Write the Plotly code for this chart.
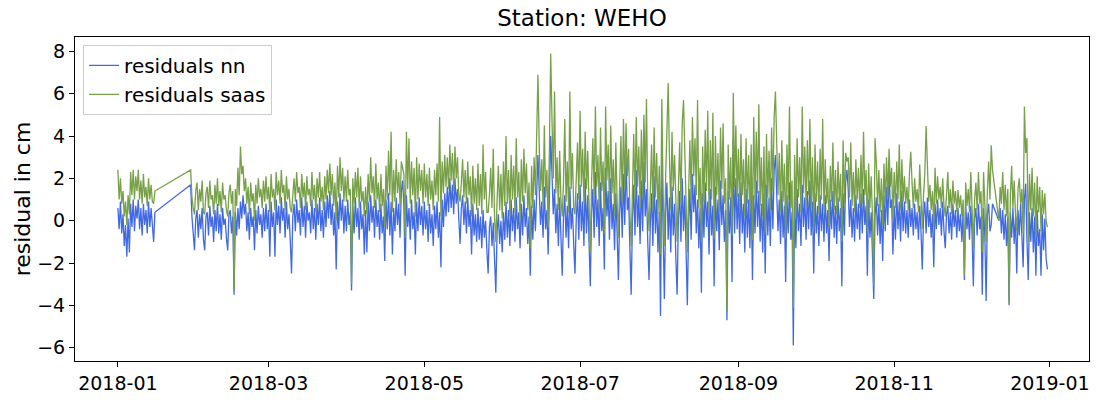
import pandas as pd
import plotly.graph_objects as go

# Residual series sampled every 12 hours, split into the three contiguous data blocks.
SEG_STARTS = ["2018-01-01 00:00", "2018-01-29 12:00", "2018-12-12 00:00"]

nn_jan = [0.6, -0.4, 0.9, -0.6, 0.3, -1.2, -0.2, -1.7, 0.1, -1.5, 0.8, -0.3, 1.0, -0.5, 0.7,
          0.1, 1.0, -0.4, 0.6, -0.7, 0.8, -0.2, 0.5, -0.6, 0.9, -0.3, 0.6, -0.4, -1.0, 0.4]
saas_jan = [2.4, 1.0, 2.0, 0.8, 1.4, 0.2, 0.9, -0.2, 1.2, 0.3, 2.3, 1.2, 2.4, 1.0, 2.1,
            1.4, 2.4, 1.0, 1.9, 0.8, 2.2, 1.1, 1.6, 0.7, 2.0, 1.0, 1.7, 0.9, 0.8, 1.4]

nn_main = [
    1.7,
    0.2, -0.6, -1.4, 0.1, 0.5, -0.8, 0.3, -0.4, 0.6, -0.9,
    -1.4, 0.2, 0.4, -0.7, 0.7, -0.3, 0.2, -1.0, 0.5, -0.5,
    0.8, -0.6, 0.3, -0.9, 0.6, -0.2, 0.1, -0.8, -1.4, 0.3,
    0.5, -0.6, 0.2, -3.5, 0.4, -0.7, 0.6, -0.4, 0.9, 0.1,
    1.2, 0.3, 0.8, -0.5, 0.4, -0.9, 0.6, -0.3, 0.2, -1.4,
    0.5, -0.6, 0.7, -0.2, 0.3, -0.8, 0.6, -0.5, 0.8, -0.4,
    0.5, -1.7, 0.9, -0.3, 0.4, -1.7, 1.0, -0.2, 0.7, -0.6,
    1.1, 0.0, 0.6, -0.8, 0.9, -0.4, 0.3, -0.9, -2.5, 0.2,
    0.8, -0.5, 1.0, -0.1, 0.5, -0.7, 1.1, -0.3, 0.7, -0.8,
    0.9, 0.0, 0.4, -0.6, 1.0, -0.4, 0.6, -0.9, 0.8, -0.2,
    1.1, -0.5, 0.5, -0.8, 0.9, -0.3, 1.2, 0.1, 1.4, -0.2,
    0.8, -0.7, 0.4, -2.3, 0.9, -0.4, 1.3, 0.0, 1.0, -0.6,
    0.7, -0.5, 1.0, -0.2, 0.4, -3.3, 0.8, -0.6, 1.1, -0.3,
    0.6, -0.9, 0.9, -0.4, 0.3, -1.6, 0.5, -1.5, 0.9, -0.5,
    1.2, -0.1, 0.7, -0.8, 1.0, -0.3, 0.5, -0.9, 0.8, -0.6,
    0.2, -1.9, 1.0, -0.4, 1.3, -0.7, 0.9, -1.6, 0.6, -0.5,
    1.1, -0.2, 0.8, -0.8, 1.4, 1.9, 0.7, -2.6, 1.2, -0.3,
    0.6, -0.9, 1.0, -0.4, 0.4, -1.6, 0.9, -0.5, 1.1, -0.2,
    0.7, -0.7, 0.9, -0.4, 0.5, -1.0, 0.8, -0.6, 0.3, -1.2,
    0.7, -0.4, 0.9, -0.8, 0.4, -2.2, 1.0, -0.3, 1.3, 0.2,
    1.6, 0.4, 2.0, 0.6, 1.7, 0.3, 2.0, 0.8, 1.5, 0.1,
    -1.1, 0.6, 1.2, -0.2, 0.9, -0.6, 1.1, -0.3, 0.5, -1.6,
    0.8, -0.7, 0.3, -1.0, 0.6, -0.9, 0.2, -1.3, 0.5, -0.8,
    0.0, -1.4, -2.5, -0.3, 0.2, -1.2, -0.1, -1.8, -3.4, -0.5,
    0.3, -1.1, 0.0, -1.5, 0.4, -0.9, 0.9, -0.8, 0.5, -1.2,
    1.0, -0.5, 0.6, -1.0, 1.1, -0.4, 0.4, -1.3, 0.8, -0.7,
    1.2, -0.3, 0.6, -1.1, 0.2, -2.6, 0.7, -0.9, 1.0, -0.5,
    1.8, 3.1, 1.4, -0.2, 0.9, -0.8, 1.6, -0.4, 0.5, -1.6,
    1.3, 4.0, 2.2, 0.3, 1.5, -0.6, 0.8, -1.2, 1.1, -0.7,
    -2.6, 0.2, 1.2, -0.8, 0.7, -1.3, 1.6, -0.4, 0.6, -1.1,
    -2.5, 0.1, 1.3, -0.9, 1.7, -0.5, 0.9, -1.2, 2.0, -0.6,
    1.2, -1.0, -3.1, 0.4, 1.5, -0.8, 2.3, -0.3, 1.0, -1.2,
    1.8, -0.5, 0.6, -2.3, 2.5, 0.2, 1.4, -0.9, 2.0, -0.4,
    0.8, -1.4, 1.3, -0.6, -2.8, 0.3, 1.6, -0.8, 2.2, -0.2,
    3.0, 0.5, 1.1, -1.3, -3.5, 0.0, 1.7, -0.7, 2.4, -0.3,
    1.2, -1.1, 1.9, -0.5, 2.8, 0.2, 1.5, -1.0, -2.8, -0.2,
    1.3, -1.2, 2.1, -0.6, 1.0, -1.5, 0.4, -4.5, 2.9, -0.4,
    -3.7, 0.3, 1.8, -0.9, 1.1, -1.5, 1.6, -0.7, 0.8, -1.8,
    -3.5, 0.1, 1.4, -1.0, 2.0, -0.5, 1.2, -1.4, -4.0, -0.2,
    1.5, -0.9, 2.2, 0.4, 1.7, -0.6, 1.0, -1.3, 0.6, -3.4,
    1.3, -0.8, 1.8, -0.3, 0.9, -1.6, 1.5, -0.7, 0.7, -3.1,
    1.6, -0.5, 1.0, -1.4, 1.9, -0.2, 1.2, -1.0, 0.5, -4.7,
    1.4, -0.6, 1.1, -2.9, 3.9, -0.6, 2.0, -0.4, 1.3, -1.1,
    1.8, -0.6, 0.8, -1.5, 1.5, -0.8, 1.0, -1.3, 1.6, -2.8,
    1.2, -0.6, 1.9, -0.3, 1.4, -1.0, 0.8, -1.5, 1.3, -2.5,
    1.7, -0.7, 1.1, -1.2, 2.0, -0.4, 2.4, 3.1, 1.6, -0.5,
    1.0, -1.1, 1.4, -0.8, 0.7, -2.9, 1.2, -0.6, 1.8, -0.9,
    0.4, -5.9, 1.0, -1.3, 1.5, -0.5, 0.8, -1.2, 1.7, -0.3,
    1.1, -0.9, 1.4, -0.4, 1.9, -0.7, 0.9, -2.5, 1.3, -0.6,
    0.7, -1.2, 1.2, -0.5, 0.8, -1.0, 1.2, -0.6, 0.5, -1.9,
    1.0, -0.4, 1.4, -0.8, 0.7, -1.1, 1.1, -0.5, 0.6, -3.1,
    1.3, -0.7, 1.8, 2.4, 1.5, -0.3, 1.0, -0.8, 0.6, -1.0,
    1.2, -0.4, 0.8, -0.9, 1.3, -0.6, 1.5, -0.2, 0.7, -2.6,
    1.0, -0.8, 0.4, -1.2, -3.7, 0.2, 1.1, -0.7, 0.8, -1.1,
    0.5, -1.9, 1.2, -0.5, 1.6, -0.2, 2.5, 0.6, 1.0, -1.6,
    0.7, -0.9, 1.3, -0.4, 0.9, -1.0, 1.4, -0.5, 0.9, -0.6,
    0.5, -0.8, 1.0, -0.3, 0.6, -0.7, 0.8, -0.4, 0.4, -0.9,
    0.7, -0.5, -2.3, 0.2, 0.9, -0.6, 1.1, -0.3, 0.5, -0.8,
    0.3, -2.2, 0.8, -0.4, 1.0, -0.2, 0.6, -0.7, 0.9, -0.5,
    -1.3, 0.3, 0.7, -0.6, 0.4, -0.9, 0.8, -0.3, 0.5, -0.8,
    0.6, -0.5, 0.3, -1.0, 0.5, -2.8, 0.8, -0.4, 0.4, -0.9,
    0.7, -0.6, -3.1, 0.1, 0.6, -0.7, 0.8, -0.4, 0.2, -3.5,
    0.6, -0.7, -3.8, 0.3, 0.8, -0.5, -0.2, 0.8,
]

saas_main = [
    2.4,
    1.1, 0.6, 0.3, 1.4, 1.8, 0.5, 1.5, 0.9, 1.9, 0.4,
    0.3, 1.3, 1.6, 0.6, 1.9, 1.0, 1.2, 0.3, 1.7, 0.8,
    2.0, 0.7, 1.4, 0.4, 1.8, 1.0, 1.2, 0.5, 0.2, 1.3,
    1.7, 0.8, 1.4, -3.3, 1.5, 0.7, 2.5, 1.2, 3.5, 2.2,
    2.6, 1.4, 2.0, 0.8, 1.6, 0.3, 1.8, 0.9, 1.3, 0.0,
    1.7, 0.8, 2.0, 1.1, 1.5, 0.6, 1.9, 0.9, 2.1, 1.0,
    1.6, 0.4, 2.2, 1.1, 1.5, 0.5, 2.3, 1.2, 1.9, 0.8,
    2.4, 1.3, 1.7, 0.5, 2.1, 1.0, 1.5, 0.6, 0.4, 1.2,
    2.0, 0.9, 2.3, 1.3, 1.6, 0.6, 2.2, 1.1, 1.8, 0.5,
    2.1, 1.2, 1.5, 0.7, 2.3, 1.0, 1.7, 0.4, 2.0, 1.1,
    2.3, 0.9, 1.6, 0.5, 2.1, 1.0, 2.4, 1.3, 2.7, 1.2,
    2.2, 0.7, 1.8, 0.0, 2.6, 1.1, 3.0, 1.4, 2.5, 0.9,
    2.1, 0.9, 2.4, 1.2, 1.5, -3.0, 2.0, 0.8, 2.3, 1.1,
    2.5, 0.6, 2.1, 0.9, 1.4, 0.2, 1.6, 0.3, 2.2, 0.9,
    3.0, 1.3, 2.1, 0.6, 2.7, 1.0, 1.8, 0.4, 2.2, 0.7,
    1.5, -0.3, 2.6, 1.0, 3.3, 1.2, 4.2, 0.4, 2.4, 0.9,
    2.9, 1.3, 2.3, 0.7, 2.8, 2.5, 2.2, -0.8, 4.2, 1.5,
    3.9, 0.8, 2.8, 1.2, 2.5, 0.2, 3.0, 1.0, 2.7, 1.4,
    2.4, 0.8, 2.7, 1.1, 2.2, 0.7, 2.5, 1.0, 1.9, 0.5,
    2.4, 1.2, 2.7, 0.9, 4.9, 0.2, 2.8, 1.3, 3.1, 1.6,
    3.0, 1.5, 3.6, 1.9, 3.2, 1.4, 3.5, 2.0, 3.0, 1.2,
    0.9, 1.8, 2.9, 1.1, 2.4, 0.8, 2.8, 1.2, 2.1, 0.2,
    2.6, 0.8, 2.0, 0.5, 2.7, 0.7, 2.2, 0.3, 3.6, 1.0,
    2.3, 0.4, 0.4, 1.2, 2.5, 0.6, 3.4, 0.2, -1.0, 1.0,
    2.6, 0.5, 2.2, 0.1, 2.8, 0.7, 4.0, 0.8, 2.4, 0.2,
    3.1, 1.0, 2.6, 0.4, 3.9, 1.1, 2.3, 0.0, 2.9, 0.9,
    3.4, 1.3, 2.7, 0.5, 1.8, -1.3, 2.6, 0.6, 3.0, 1.2,
    3.8, 6.9, 3.5, 1.4, 2.9, 0.7, 4.5, 1.1, 2.4, -0.3,
    3.6, 7.9, 4.8, 2.0, 6.1, 1.3, 3.0, 0.5, 3.3, 1.0,
    0.2, 1.8, 4.8, 0.9, 2.8, 0.4, 6.1, 1.5, 3.2, 0.6,
    0.3, 2.0, 3.7, 1.0, 5.2, 1.6, 3.4, 0.8, 4.2, 1.5,
    3.3, 0.8, -1.5, 1.8, 3.9, 1.2, 5.4, 1.6, 3.1, 0.5,
    4.4, 1.4, 2.8, -0.6, 5.4, 1.9, 3.6, 0.8, 4.5, 1.3,
    2.9, 0.2, 3.7, 1.0, -0.8, 1.7, 4.0, 0.9, 4.8, 1.5,
    4.6, 2.1, 3.4, 0.4, -1.2, 1.3, 4.1, 1.0, 4.9, 1.6,
    3.5, 0.6, 4.3, 1.2, 5.0, 1.8, 5.75, 0.9, -0.5, 1.4,
    3.6, 0.5, 4.4, 1.1, 3.2, 0.3, 2.6, -1.6, 5.75, 1.5,
    -1.2, 2.0, 3.9, 6.5, 3.0, 0.5, 4.2, 1.4, 3.1, 0.2,
    -1.0, 1.6, 3.7, 0.8, 4.6, 5.7, 3.4, 0.4, -1.5, 1.3,
    3.8, 1.0, 4.9, 2.1, 3.9, 1.2, 5.7, 0.6, 2.5, -1.0,
    3.5, 0.9, 4.3, 1.4, 5.2, 0.3, 3.8, 1.0, 5.1, -0.8,
    4.0, 1.2, 3.2, 0.4, 4.4, 1.5, 4.6, 0.8, 2.0, -4.3,
    3.6, 1.0, 3.0, -0.7, 6.05, 1.6, 4.5, 1.1, 3.4, 0.5,
    4.1, 1.2, 2.9, 0.2, 3.9, 0.8, 3.1, 0.3, 3.6, -0.9,
    4.9, 1.0, 4.2, 1.3, 5.5, 0.7, 3.0, 0.2, 3.5, -0.6,
    4.1, 1.1, 3.3, 0.5, 4.4, 1.4, 4.9, 6.1, 4.0, 1.2,
    3.2, 0.4, 3.8, 0.9, 2.7, -0.8, 3.6, 1.0, 5.4, 0.6,
    1.9, -4.1, 3.1, 0.3, 3.9, 1.1, 3.0, 0.4, 5.4, 1.3,
    3.5, 0.7, 3.8, 1.2, 4.8, 0.6, 3.0, -0.4, 3.6, 0.9,
    2.8, 0.3, 3.4, 1.0, 4.8, 0.5, 2.9, 0.8, 2.0, -0.3,
    2.6, 0.9, 3.7, 0.5, 2.4, 0.3, 2.8, 0.9, 2.2, -1.0,
    3.8, 0.8, 3.2, 2.8, 3.0, 1.1, 3.7, 0.7, 2.3, 0.4,
    2.9, 1.0, 2.5, 0.6, 3.1, 0.8, 4.2, 1.2, 2.4, -0.5,
    2.7, 0.6, 2.1, 0.2, -3.1, 3.9, 2.8, 0.7, 2.4, 0.4,
    2.0, -0.2, 2.7, 0.8, 3.0, 1.1, 3.4, 1.6, 2.5, 0.1,
    2.3, 0.6, 2.8, 1.0, 3.6, 0.5, 2.9, 0.9, 2.1, 0.8,
    1.6, 0.5, 2.3, 3.26, 1.8, 0.6, 2.0, 0.9, 1.5, 0.4,
    2.65, 0.7, -0.4, 1.2, 2.2, 4.47, 2.4, 0.9, 1.7, 0.5,
    1.4, -0.3, 2.5, 0.8, 2.1, 1.0, 1.6, 0.6, 2.0, 0.7,
    0.2, 1.1, 2.3, 0.6, 1.5, 0.3, 1.9, 0.8, 1.4, 0.4,
    1.45, 0.6, 1.2, 0.2, 1.0, -2.6, 1.8, 0.7, 1.5, 0.4,
    2.3, 0.6, -1.3, 1.0, 1.8, 0.5, 2.3, 0.8, 1.4, -1.5,
    2.3, 0.8, -1.0, 1.4, 2.8, 1.0, 3.56, 2.4,
]

nn_dec = [0.0, 0.6, -0.6, 0.5, -0.9, 0.3, -1.2, 0.2, -4.0, 0.4,
          -0.8, 0.6, -1.1, 0.2, -2.5, 0.5, -0.7, 0.8, -1.3, -2.2,
          1.0, 1.75, -0.9, -2.8, 0.4, -1.0, 0.6, -1.5, 0.2, -2.6,
          0.5, -1.2, -0.4, -2.6, 0.3, -1.4, 0.1, -1.8, -2.3]
saas_dec = [0.0, 1.6, 0.8, 2.3, 0.5, 1.7, 0.2, 1.5, -3.9, 1.2,
            2.6, 0.6, 1.9, 0.3, -0.5, 1.5, 2.0, 0.8, 1.5, -0.6,
            5.4, 3.2, 3.9, -1.0, 2.2, 0.5, 2.5, 0.2, 1.8, -0.7,
            2.1, 0.4, 1.6, -0.5, 1.45, 0.3, 1.3, 0.0, -0.3]


def build_series(segments):
    """Join the data blocks into one time-indexed series (gaps get bridged by the line)."""
    parts = []
    for start, vals in zip(SEG_STARTS, segments):
        idx = pd.date_range(start, periods=len(vals), freq="12h")
        parts.append(pd.Series(vals, index=idx))
    return pd.concat(parts)


nn = build_series([nn_jan, nn_main, nn_dec])
saas = build_series([saas_jan, saas_main, saas_dec])

FONT = "DejaVu Sans"
TICK_SIZE = 19

fig = go.Figure()
fig.add_trace(go.Scatter(x=nn.index, y=nn.values, mode="lines", name="residuals nn",
                         line=dict(color="#4169e1", width=1.3)))
fig.add_trace(go.Scatter(x=saas.index, y=saas.values, mode="lines", name="residuals saas",
                         line=dict(color="#77a048", width=1.3)))

fig.update_layout(
    width=1098, height=402,
    margin=dict(l=75, r=8, t=37, b=27),
    paper_bgcolor="white", plot_bgcolor="white",
    font=dict(family=FONT, color="black", size=TICK_SIZE),
    title=dict(text="Station: WEHO", x=0.5, xref="paper", xanchor="center",
               y=1 - 18 / 402, yref="container", yanchor="middle",
               font=dict(size=23, family=FONT, color="black")),
    showlegend=True,
    legend=dict(x=0.008, y=0.976, xanchor="left", yanchor="top",
                bgcolor="white", bordercolor="#cccccc", borderwidth=1,
                font=dict(size=20, family=FONT, color="black")),
)
fig.update_xaxes(
    type="date", range=["2017-12-15 05:00", "2019-01-16 07:00"],
    tick0="2018-01-01", dtick="M2", tickformat="%Y-%m",
    ticks="outside", ticklen=5, tickcolor="black",
    showline=True, linecolor="black", linewidth=1, mirror=True,
    showgrid=False, zeroline=False,
    tickfont=dict(size=TICK_SIZE, family=FONT, color="black"),
)
fig.update_yaxes(
    range=[-6.63, 8.68], tick0=0, dtick=2,
    ticks="outside", ticklen=5, tickcolor="black",
    showline=True, linecolor="black", linewidth=1, mirror=True,
    showgrid=False, zeroline=False,
    tickfont=dict(size=TICK_SIZE, family=FONT, color="black"),
    title=dict(text="residual in cm", font=dict(size=22, family=FONT, color="black"), standoff=0),
)

fig.write_html("out.html")
